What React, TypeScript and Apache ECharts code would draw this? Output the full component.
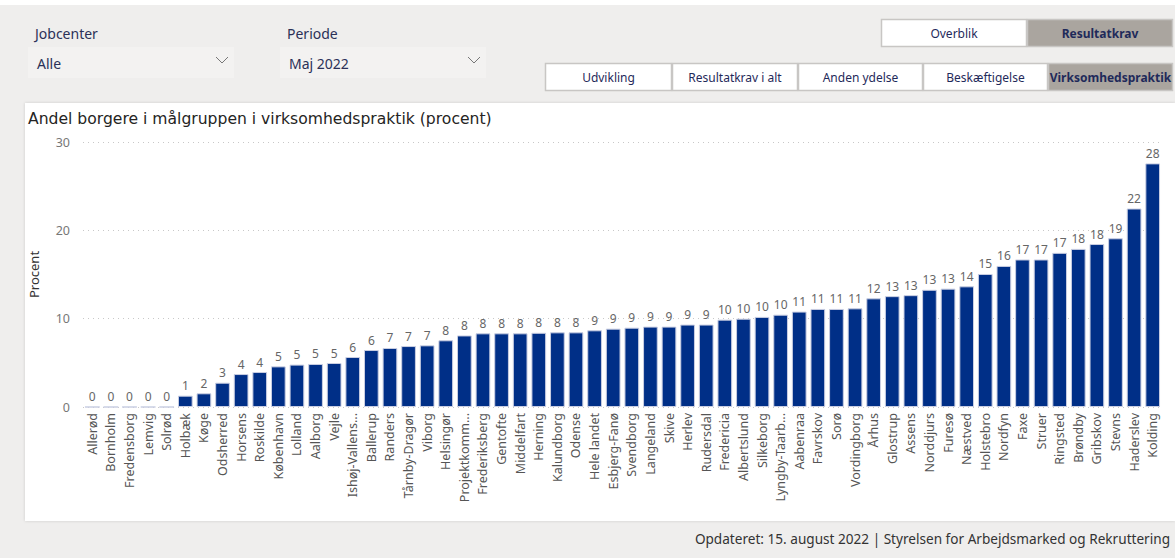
import React, { useEffect, useRef } from "react";
import * as echarts from "echarts";

const categories = [
  "Allerød", "Bornholm", "Fredensborg", "Lemvig", "Solrød", "Holbæk", "Køge", "Odsherred", "Horsens", "Roskilde",
  "København", "Lolland", "Aalborg", "Vejle", "Ishøj-Vallens...", "Ballerup", "Randers", "Tårnby-Dragør", "Viborg", "Helsingør",
  "Projektkomm...", "Frederiksberg", "Gentofte", "Middelfart", "Herning", "Kalundborg", "Odense", "Hele landet", "Esbjerg-Fanø", "Svendborg",
  "Langeland", "Skive", "Herlev", "Rudersdal", "Fredericia", "Albertslund", "Silkeborg", "Lyngby-Taarb...", "Aabenraa", "Favrskov",
  "Sorø", "Vordingborg", "Århus", "Glostrup", "Assens", "Norddjurs", "Furesø", "Næstved", "Holstebro", "Nordfyn",
  "Faxe", "Struer", "Ringsted", "Brøndby", "Gribskov", "Stevns", "Haderslev", "Kolding",
];

const values = [
  0, 0, 0, 0, 0, 1.28, 1.55, 2.75, 3.73, 3.96,
  4.6, 4.8, 4.87, 4.98, 5.66, 6.45, 6.68, 6.9, 6.98, 7.55,
  8.1, 8.34, 8.34, 8.34, 8.4, 8.45, 8.45, 8.68, 8.87, 8.98,
  9.1, 9.1, 9.33, 9.33, 9.89, 10.0, 10.2, 10.45, 10.8, 11.1,
  11.1, 11.17, 12.3, 12.55, 12.66, 13.27, 13.4, 13.66, 15.06, 15.97,
  16.7, 16.7, 17.45, 17.9, 18.45, 19.1, 22.47, 27.58,
];

const yTicks = [0, 10, 20, 30];

const title = "Andel borgere i målgruppen i virksomhedspraktik (procent)";
const yAxisName = "Procent";
const footer = "Opdateret: 15. august 2022 | Styrelsen for Arbejdsmarked og Rekruttering";
const filters = [
  { label: "Jobcenter", value: "Alle" },
  { label: "Periode", value: "Maj 2022" },
];
const topButtons = ["Overblik", "Resultatkrav"];
const subButtons = ["Udvikling", "Resultatkrav i alt", "Anden ydelse", "Beskæftigelse", "Virksomhedspraktik"];

const FONT = "'Noto Sans', sans-serif";
const NAVY = "#1f2a5a";

function buildGraphics() {
  const g: any[] = [];
  g.push({ type: "rect", shape: { x: 0, y: 0, width: 1175, height: 5 }, style: { fill: "#ffffff" }, silent: true });
  const fx = [28, 280];
  filters.forEach((f, i) => {
    const x = fx[i];
    g.push({ type: "text", x: x + 7, y: 33, style: { text: f.label, font: `14px ${FONT}`, fill: "#2b3158", verticalAlign: "middle" } });
    g.push({ type: "rect", shape: { x: x, y: 47, width: 206, height: 31 }, style: { fill: "#f3f2f1" } });
    g.push({ type: "text", x: x + 9, y: 63, style: { text: f.value, font: `14px ${FONT}`, fill: "#2b3158", verticalAlign: "middle" } });
    g.push({ type: "polyline", shape: { points: [[x + 188, 57], [x + 194, 63], [x + 200, 57]] }, style: { stroke: "#777", lineWidth: 1, fill: null } });
  });
  const tb = [[881, 146], [1027, 146]];
  topButtons.forEach((t, i) => {
    const [x, w] = tb[i];
    const active = i === 1;
    g.push({ type: "rect", shape: { x: x + 0.5, y: 19.5, width: w - 1, height: 27 }, style: { fill: active ? "#aaa59f" : "#ffffff", stroke: "#c8c6c4", lineWidth: 1.5 } });
    g.push({ type: "text", x: x + w / 2, y: 33, style: { text: t, font: `${active ? "bold " : ""}12px ${FONT}`, fill: NAVY, align: "center", verticalAlign: "middle" } });
  });
  const sb = [[545, 127], [672, 126], [798, 125], [923, 125], [1048, 125]];
  subButtons.forEach((t, i) => {
    const [x, w] = sb[i];
    const active = i === 4;
    g.push({ type: "rect", shape: { x: x + 0.5, y: 63.5, width: w - 1, height: 27 }, style: { fill: active ? "#aaa59f" : "#ffffff", stroke: "#c8c6c4", lineWidth: 1.5 } });
    g.push({ type: "text", x: x + w / 2, y: 77, style: { text: t, font: `${active ? "bold " : ""}12px ${FONT}`, fill: NAVY, align: "center", verticalAlign: "middle" } });
  });
  g.push({ type: "rect", z: -10, shape: { x: 25, y: 103, width: 1150, height: 418 }, style: { fill: "#ffffff", shadowBlur: 3, shadowColor: "rgba(0,0,0,0.15)" }, silent: true });
  g.push({ type: "text", x: 28, y: 119, style: { text: title, font: `15.6px 'DejaVu Sans', ${FONT}`, fill: "#252423", verticalAlign: "middle" } });
  g.push({ type: "text", x: 1170, y: 538, style: { text: footer, font: `13.6px ${FONT}`, fill: "#333333", align: "right", verticalAlign: "middle" } });
  return g;
}

export default function App() {
  const ref = useRef<HTMLDivElement>(null);
  useEffect(() => {
    if (!ref.current) return;
    const chart = echarts.init(ref.current, undefined, { renderer: "svg" });
    chart.setOption({
      animation: false,
      backgroundColor: "#efeeed",
      graphic: buildGraphics(),
      grid: { left: 83, right: 13, top: 142, bottom: 151, containLabel: false },
      xAxis: {
        type: "category",
        data: categories,
        axisLine: { show: false },
        axisTick: { show: false },
        axisLabel: { interval: 0, rotate: 90, fontSize: 12.5, fontFamily: FONT, color: "#555", margin: 6 },
      },
      yAxis: {
        type: "value",
        min: 0,
        max: 30,
        interval: 10,
        name: yAxisName,
        nameLocation: "middle",
        nameGap: 43,
        nameTextStyle: { fontSize: 13, fontFamily: FONT, color: "#333" },
        axisLabel: { fontSize: 12.5, fontFamily: FONT, color: "#777", margin: 13, formatter: (v: number) => (yTicks.includes(v) ? String(v) : "") },
        splitLine: { lineStyle: { type: [1, 4], color: "#c8c8c8", width: 1 } },
        axisLine: { show: false },
        axisTick: { show: false },
      },
      series: [
        {
          type: "bar",
          data: values,
          barCategoryGap: "21%",
          itemStyle: { color: "#002f87", borderColor: "#c9cee2", borderWidth: 1 },
          label: {
            show: true,
            position: "top",
            distance: 4,
            fontSize: 12,
            fontFamily: FONT,
            color: "#666",
            formatter: (p: any) => String(Math.round(p.value)),
          },
        },
      ],
    });
    return () => chart.dispose();
  }, []);
  return <div ref={ref} style={{ position: "fixed", left: 0, top: 0, width: 1175, height: 558 }} />;
}
